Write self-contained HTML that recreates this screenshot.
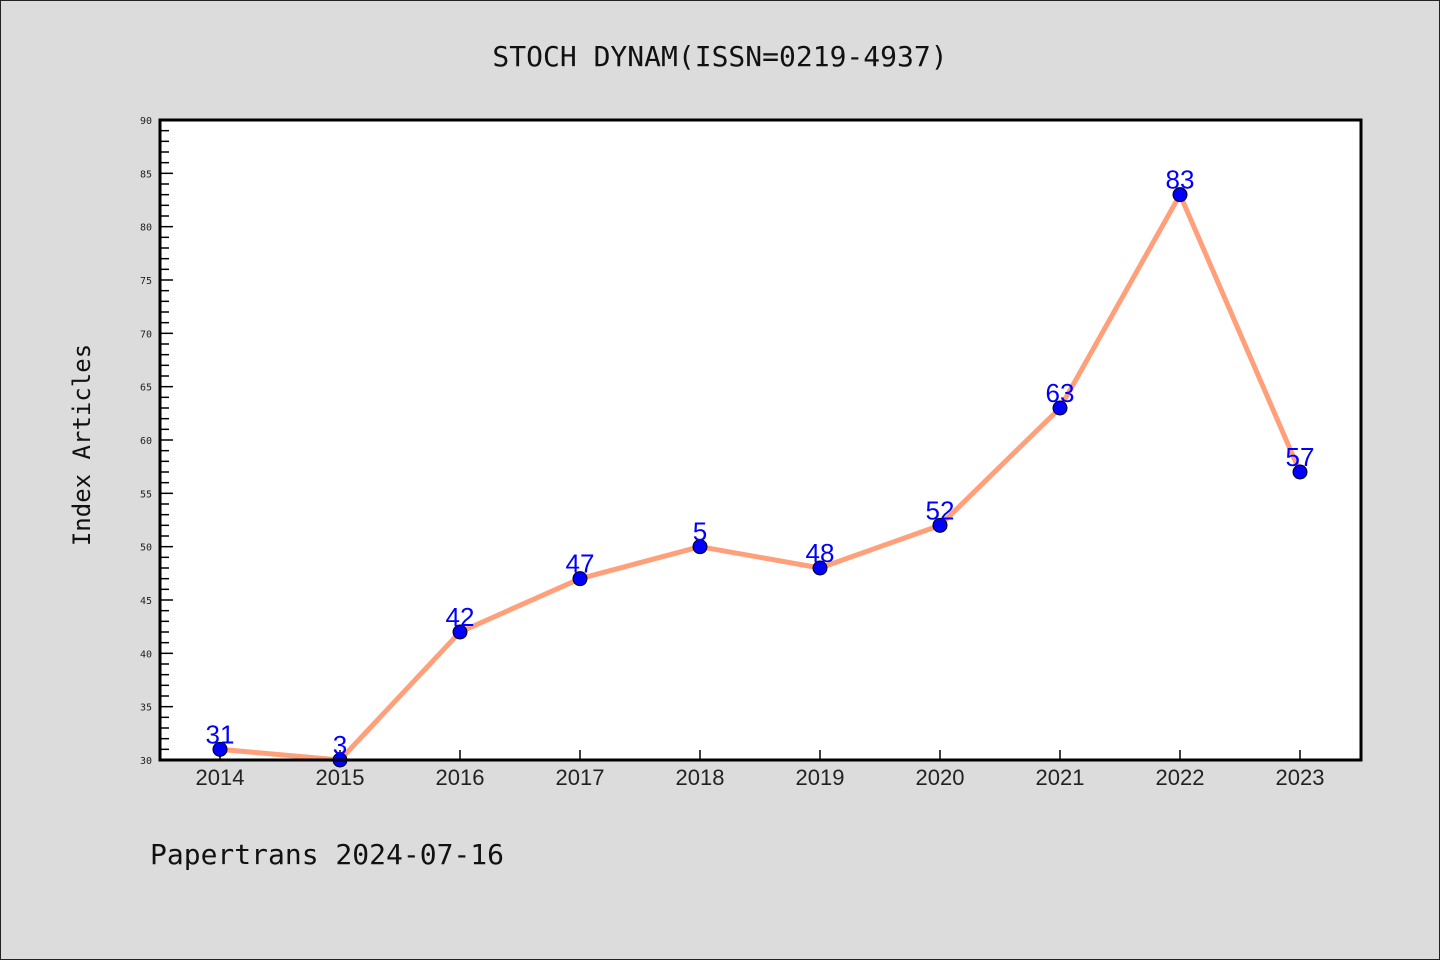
<!DOCTYPE html>
<html><head><meta charset="utf-8"><style>
body{margin:0;background:#dcdcdc;}
svg{display:block;font-family:"DejaVu Sans Mono","Liberation Mono",monospace;}
</style></head><body>
<svg id="chart" width="1440" height="960">
<rect x="0.5" y="0.5" width="1439" height="959" fill="#dcdcdc" stroke="#222"/>
<text x="720" y="66" text-anchor="middle" font-size="28" fill="#111">STOCH DYNAM(ISSN=0219-4937)</text>
<text x="90" y="445" text-anchor="middle" font-size="24" fill="#111" transform="rotate(-90 90 445)">Index Articles</text>
<text x="150" y="864" font-size="28" fill="#111">Papertrans 2024-07-16</text>
<rect x="160" y="120" width="1201" height="640" fill="#fff"/>
<g id="axes"></g>
<g id="series"></g>
<rect x="160" y="120" width="1201" height="640" fill="none" stroke="#000" stroke-width="3"/>
</svg>
<script>
const years = ["2014","2015","2016","2017","2018","2019","2020","2021","2022","2023"];
const counts = [31,30,42,47,50,48,52,63,83,57];
const pointLabels = ["31","3","42","47","5","48","52","63","83","57"];
const yTicks = [30,35,40,45,50,55,60,65,70,75,80,85,90];
const NS="http://www.w3.org/2000/svg";
const x0=160,x1=1361,y0=760,y1=120,ymin=30,ymax=90;
const xs=i=>220+i*(1080/(years.length-1));
const ys=v=>y0-(v-ymin)/(ymax-ymin)*(y0-y1);
function mk(tag,attrs,parent){const e=document.createElementNS(NS,tag);for(const k in attrs)e.setAttribute(k,attrs[k]);parent.appendChild(e);return e;}
const ax=document.getElementById('axes'), se=document.getElementById('series');
for(let v=ymin;v<=ymax;v++){
  const major=(v%5===0);
  const t=mk('line',{x1:x0,x2:x0+(major?13:9),y1:ys(v),y2:ys(v),stroke:'#000','stroke-width':1.5},ax);
  
  
}
yTicks.forEach(v=>{
  const t=mk('text',{x:152,y:ys(v)+4,'text-anchor':'end','font-size':10,fill:'#222'},ax);
  t.textContent=v;
  
  
});
years.forEach((y,i)=>{
  const tk=mk('line',{x1:xs(i),x2:xs(i),y1:y0,y2:y0-10,stroke:'#000','stroke-width':1.5},ax);
  
  
  const t=mk('text',{x:xs(i),y:785,'text-anchor':'middle','font-size':22,fill:'#222','font-family':'Liberation Sans, sans-serif'},ax);
  t.textContent=y;
  
  
});
const pl=mk('polyline',{points:counts.map((v,i)=>xs(i)+','+ys(v)).join(' '),fill:'none',stroke:'#ffa07a','stroke-width':5,'stroke-linejoin':'round'},se);


counts.forEach((v,i)=>{
  const c=mk('circle',{cx:xs(i),cy:ys(v),r:7,fill:'#0000ff',stroke:'#000','stroke-width':1},se);
  
  
  const t=mk('text',{x:xs(i),y:ys(v)-6,'text-anchor':'middle','font-size':26,fill:'#0000ff','font-family':'Liberation Sans, sans-serif'},se);
  t.textContent=pointLabels[i];
  
  
});
</script>
</body></html>
